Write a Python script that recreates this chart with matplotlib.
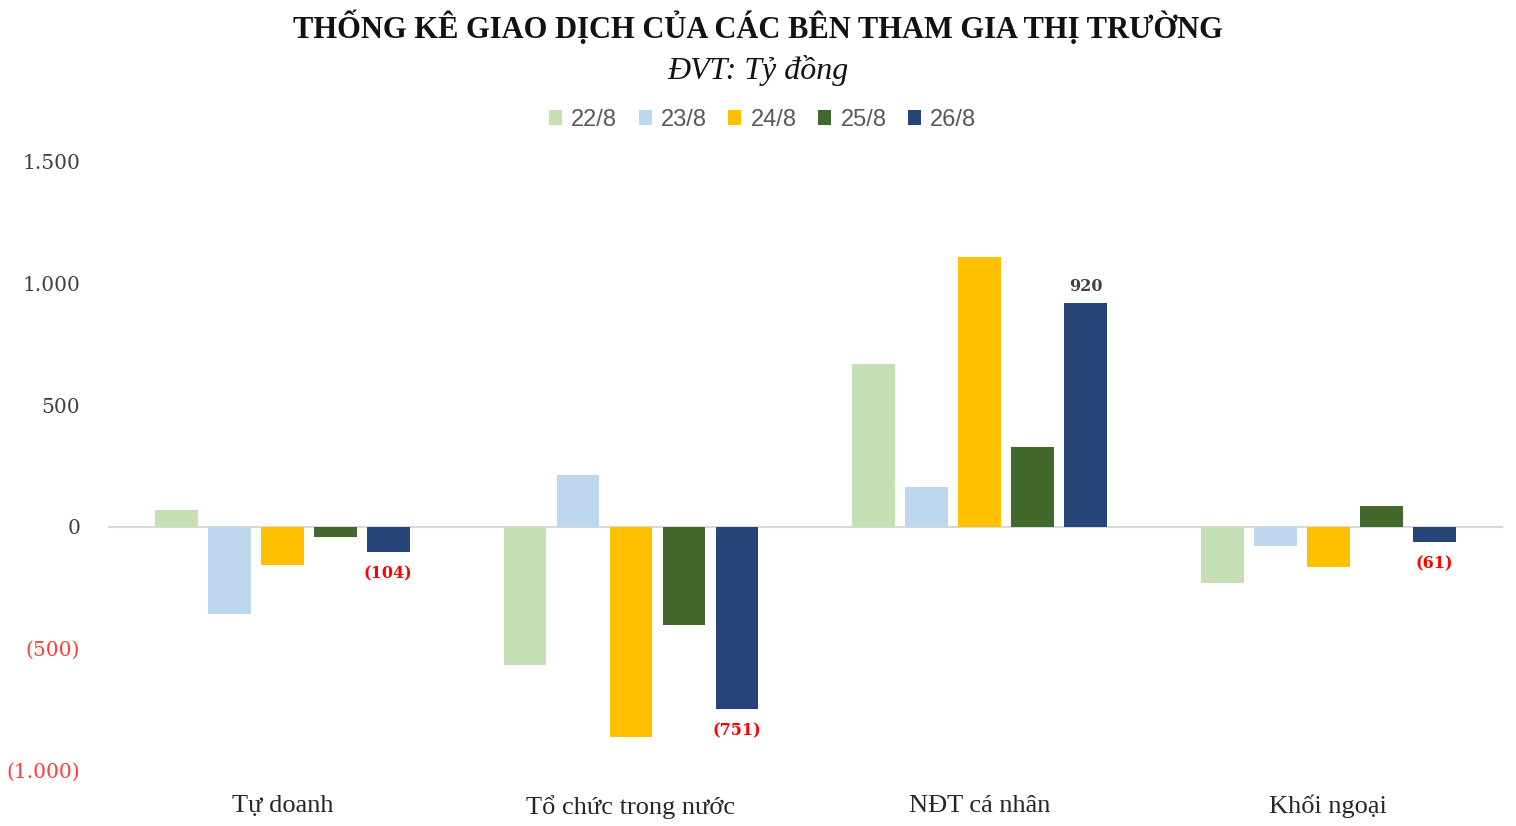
import numpy as np
import matplotlib.pyplot as plt
from matplotlib.ticker import FuncFormatter

# Data (ty dong)
categories = ['Tự doanh', 'Tổ chức trong nước', 'NĐT cá nhân', 'Khối ngoại']
days = ['22/8', '23/8', '24/8', '25/8', '26/8']
v_22 = [70, -568, 671, -230]
v_23 = [-358, 214, 165, -78]
v_24 = [-156, -864, 1111, -165]
v_25 = [-41, -403, 329, 86]
v_26 = [-104, -751, 920, -61]
series = [v_22, v_23, v_24, v_25, v_26]
colors = ['#C5E0B4', '#BDD7EE', '#FFC000', '#43682B', '#264478']

fig = plt.figure(figsize=(15.16, 8.26), dpi=100)
ax = fig.add_axes([0.0712, 0.0678, 0.92, 0.7361])

x = np.arange(len(categories))
step = 0.152
width = 0.122
for i, (vals, c) in enumerate(zip(series, colors)):
    ax.bar(x + (i - 2) * step, vals, width, color=c, label=days[i], zorder=3)

# data labels for the last series
for xi, v in zip(x + 2 * step, v_26):
    if v < 0:
        ax.text(xi, v - 55, '(%d)' % abs(v), ha='center', va='top', color='#FF0000',
                fontsize=11.5, fontweight='bold', family='DejaVu Serif')
    else:
        ax.text(xi, v + 35, '%d' % v, ha='center', va='bottom', color='#404040',
                fontsize=11.5, fontweight='bold', family='DejaVu Serif')

ax.axhline(0, color='#D9D9D9', lw=1.5, zorder=2)
ax.set_xlim(-0.5, 3.5)
ax.set_ylim(-1000, 1500)
ax.set_yticks([-1000, -500, 0, 500, 1000, 1500])


def fmt(v, pos):
    s = '{:,.0f}'.format(abs(v)).replace(',', '.')
    return '(%s)' % s if v < 0 else s


ax.yaxis.set_major_formatter(FuncFormatter(fmt))
ax.tick_params(axis='y', length=0, pad=20, labelsize=14.5, labelfontfamily='DejaVu Serif')
for lab, v in zip(ax.get_yticklabels(), ax.get_yticks()):
    lab.set_color('#FF3B3B' if v < 0 else '#404040')
ax.set_xticks(x)
ax.set_xticklabels(categories, family='Liberation Serif', fontsize=19, color='#262626')
ax.tick_params(axis='x', length=0, pad=18)
for s in ax.spines.values():
    s.set_visible(False)

fig.text(0.5, 0.966, 'THỐNG KÊ GIAO DỊCH CỦA CÁC BÊN THAM GIA THỊ TRƯỜNG',
         ha='center', va='center', fontsize=22, fontweight='bold',
         family='Liberation Serif', color='#111111')
fig.text(0.5, 0.915, 'ĐVT: Tỷ đồng', ha='center', va='center', fontsize=23,
         style='italic', family='Liberation Serif', color='#111111')

fig.legend(loc='center', bbox_to_anchor=(0.503, 0.855), ncol=5, frameon=False,
           handlelength=0.55, handleheight=0.55, handletextpad=0.4, columnspacing=0.9,
           prop={'family': 'Liberation Sans', 'size': 17}, labelcolor='#595959')

fig.savefig('out.png', dpi=100)
